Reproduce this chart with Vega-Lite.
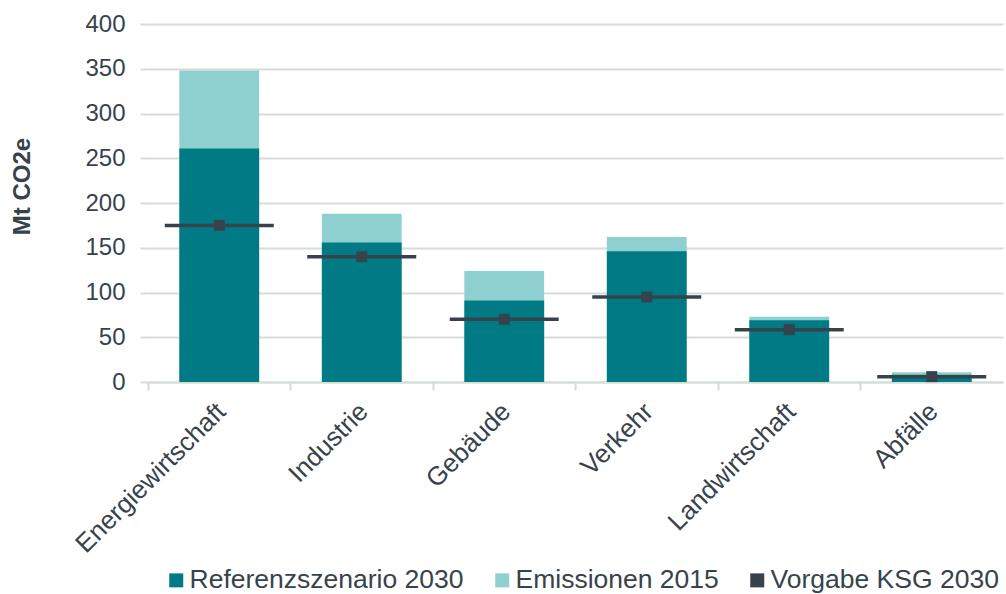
{
  "$schema": "https://vega.github.io/schema/vega-lite/v6.json",
  "width": 855,
  "height": 358,
  "autosize": {"type": "none"},
  "padding": {"left": 148, "top": 24, "right": 3, "bottom": 212},
  "background": "white",
  "config": {
    "font": "Liberation Sans",
    "view": {"stroke": null}
  },
  "data": {
    "values": [
      {"sektor": "Energiewirtschaft", "reihe": "Emissionen 2015", "wert": 348},
      {"sektor": "Industrie", "reihe": "Emissionen 2015", "wert": 188},
      {"sektor": "Gebäude", "reihe": "Emissionen 2015", "wert": 124},
      {"sektor": "Verkehr", "reihe": "Emissionen 2015", "wert": 162},
      {"sektor": "Landwirtschaft", "reihe": "Emissionen 2015", "wert": 73},
      {"sektor": "Abfälle", "reihe": "Emissionen 2015", "wert": 11},
      {"sektor": "Energiewirtschaft", "reihe": "Referenzszenario 2030", "wert": 261},
      {"sektor": "Industrie", "reihe": "Referenzszenario 2030", "wert": 156},
      {"sektor": "Gebäude", "reihe": "Referenzszenario 2030", "wert": 91},
      {"sektor": "Verkehr", "reihe": "Referenzszenario 2030", "wert": 146},
      {"sektor": "Landwirtschaft", "reihe": "Referenzszenario 2030", "wert": 69},
      {"sektor": "Abfälle", "reihe": "Referenzszenario 2030", "wert": 8},
      {"sektor": "Energiewirtschaft", "reihe": "Vorgabe KSG 2030", "wert": 175},
      {"sektor": "Industrie", "reihe": "Vorgabe KSG 2030", "wert": 140},
      {"sektor": "Gebäude", "reihe": "Vorgabe KSG 2030", "wert": 70},
      {"sektor": "Verkehr", "reihe": "Vorgabe KSG 2030", "wert": 95},
      {"sektor": "Landwirtschaft", "reihe": "Vorgabe KSG 2030", "wert": 58.5},
      {"sektor": "Abfälle", "reihe": "Vorgabe KSG 2030", "wert": 6}
    ]
  },
  "encoding": {
    "x": {
      "field": "sektor",
      "type": "nominal",
      "sort": ["Energiewirtschaft", "Industrie", "Gebäude", "Verkehr", "Landwirtschaft", "Abfälle"],
      "scale": {"paddingInner": 0, "paddingOuter": 0},
      "axis": {
        "title": null,
        "labelAngle": -45,
        "labelFontSize": 26,
        "labelColor": "#37434c",
        "labelPadding": 8,
        "labelOffset": -7,
        "labelLimit": 0,
        "bandPosition": 0,
        "tickColor": "#d5ddd5",
        "tickSize": 8,
        "tickWidth": 2,
        "domainColor": "#d5ddd5",
        "domainWidth": 2,
        "grid": false
      }
    },
    "y": {
      "field": "wert",
      "type": "quantitative",
      "stack": null,
      "scale": {"domain": [0, 400]},
      "axis": {
        "title": "Mt CO2e",
        "titleFontSize": 24,
        "titleFontWeight": "bold",
        "titleColor": "#37434c",
        "titleX": -126,
        "titleY": 162,
        "titleAngle": -90,
        "titleAlign": "center",
        "titleBaseline": "middle",
        "labelFontSize": 24,
        "labelColor": "#37434c",
        "labelPadding": 15,
        "labelOverlap": false,
        "values": [0, 50, 100, 150, 200, 250, 300, 350, 400],
        "tickColor": "#d5ddd5",
        "tickSize": 8,
        "tickWidth": 2,
        "domain": false,
        "gridColor": "#d5ddd5",
        "gridWidth": 2
      }
    },
    "color": {
      "field": "reihe",
      "type": "nominal",
      "scale": {
        "domain": ["Referenzszenario 2030", "Emissionen 2015", "Vorgabe KSG 2030"],
        "range": ["#007a85", "#8ed0d0", "#37434c"]
      },
      "legend": {
        "title": null,
        "orient": "none",
        "direction": "horizontal",
        "legendX": 15,
        "legendY": 543,
        "padding": 0,
        "symbolType": "square",
        "symbolSize": 196,
        "symbolOpacity": 1,
        "symbolStrokeWidth": 0,
        "labelFontSize": 26.5,
        "labelColor": "#37434c",
        "labelLimit": 0,
        "columnPadding": 25,
        "labelOffset": 0
      }
    }
  },
  "layer": [
    {
      "transform": [{"filter": "datum.reihe === 'Emissionen 2015'"}],
      "mark": {"type": "bar", "width": {"band": 0.56}}
    },
    {
      "transform": [{"filter": "datum.reihe === 'Referenzszenario 2030'"}],
      "mark": {"type": "bar", "width": {"band": 0.56}}
    },
    {
      "transform": [{"filter": "datum.reihe === 'Vorgabe KSG 2030'"}],
      "mark": {"type": "tick", "thickness": 3.5, "size": 109, "opacity": 1}
    },
    {
      "transform": [{"filter": "datum.reihe === 'Vorgabe KSG 2030'"}],
      "mark": {"type": "point", "shape": "square", "filled": true, "size": 121, "opacity": 1}
    }
  ]
}
